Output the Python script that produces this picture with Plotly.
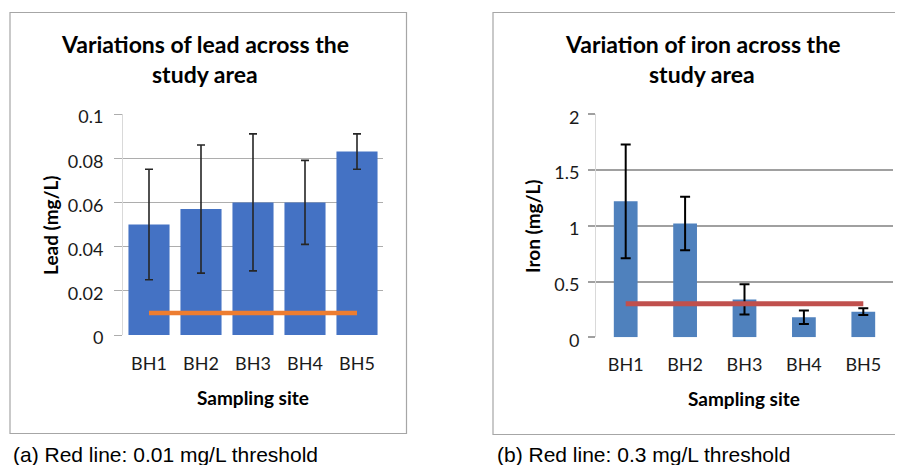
import plotly.graph_objects as go

sites = ["BH1", "BH2", "BH3", "BH4", "BH5"]
lead = [0.05, 0.057, 0.06, 0.06, 0.083]
lead_err = [0.025, 0.029, 0.031, 0.019, 0.008]
lead_threshold = 0.01
iron = [1.22, 1.02, 0.34, 0.18, 0.23]
iron_err = [0.51, 0.24, 0.136, 0.06, 0.03]
iron_threshold = 0.3

W, H = 903, 465
OFF = 8  # page body margin offset
def fx(px): return (px - OFF) / W
def fy(py): return 1 - (py - OFF) / H

TF = "Lato, 'Open Sans', sans-serif"
TXT = "#1a1a1a"
fig = go.Figure()

fig.add_trace(go.Bar(x=sites, y=lead, width=0.79, marker=dict(color="#4472C4", line=dict(width=0)),
                     error_y=dict(type="data", array=lead_err, color="#262626", thickness=1.6, width=4),
                     xaxis="x", yaxis="y", showlegend=False))
fig.add_trace(go.Scatter(x=sites, y=[lead_threshold] * len(sites), mode="lines",
                         line=dict(color="#ED7D31", width=4.5), xaxis="x", yaxis="y", showlegend=False))
fig.add_trace(go.Bar(x=sites, y=iron, width=0.4, marker=dict(color="#4F81BD", line=dict(width=0)),
                     error_y=dict(type="data", array=iron_err, color="#000000", thickness=2, width=5),
                     xaxis="x2", yaxis="y2", showlegend=False))
fig.add_trace(go.Scatter(x=sites, y=[iron_threshold] * len(sites), mode="lines",
                         line=dict(color="#C0504D", width=5), xaxis="x2", yaxis="y2", showlegend=False))

tickfont = dict(family=TF, size=18, color=TXT)

fig.update_layout(
    width=W, height=H, margin=dict(l=0, r=0, t=0, b=0, autoexpand=False),
    paper_bgcolor="white", plot_bgcolor="white", showlegend=False,
    xaxis=dict(domain=[fx(123), fx(383)], anchor="y", showgrid=False, showline=False,
               ticks="", tickfont=tickfont, automargin=False, ticklabelstandoff=16),
    yaxis=dict(domain=[fy(335), fy(114)], anchor="x", range=[0, 0.1], dtick=0.02,
               showgrid=True, gridcolor="#ADADAD", gridwidth=1, zeroline=False,
               showline=True, linecolor="#D9D9D9", linewidth=1, automargin=False,
               ticks="outside", ticklen=8, tickcolor="#ADADAD", tickfont=tickfont,
               ticklabelstandoff=7, ticklabelshift=3),
    xaxis2=dict(domain=[fx(596), fx(893)], anchor="y2", showgrid=False, showline=False,
                ticks="", tickfont=tickfont, automargin=False, ticklabelstandoff=15),
    yaxis2=dict(domain=[fy(337.3), fy(114.3)], anchor="x2", range=[0, 2], dtick=0.5,
                showgrid=True, gridcolor="#A0A0A0", gridwidth=1.5, zeroline=False,
                showline=True, linecolor="#D9D9D9", linewidth=1, automargin=False,
                ticks="outside", ticklen=7, tickcolor="#A0A0A0", tickwidth=1.5,
                tickfont=tickfont, ticklabelstandoff=5, ticklabelshift=3),
)

# Outer chart borders
fig.add_shape(type="rect", xref="paper", yref="paper", x0=fx(10), x1=fx(406.5), y0=fy(433.5), y1=fy(12.5),
              line=dict(color="#A6A6A6", width=1.2), fillcolor="rgba(0,0,0,0)")
fig.add_shape(type="rect", xref="paper", yref="paper", x0=fx(493), x1=fx(905), y0=fy(434.5), y1=fy(12.5),
              line=dict(color="#A6A6A6", width=1.2), fillcolor="rgba(0,0,0,0)")

def ann(text, x, y, size, bold=False, family=TF, angle=0, xanchor="center"):
    fig.add_annotation(text=text, x=fx(x), y=fy(y), xref="paper", yref="paper", showarrow=False,
                       xanchor=xanchor, yanchor="middle", textangle=angle,
                       font=dict(family=family, size=size, color="#000000", weight="bold" if bold else "normal"))

ann("Variations of lead across the", 205, 44, 23, True)
ann("study area", 205, 74, 23, True)
ann("Variation of iron across the", 702, 44, 23, True)
ann("study area", 702, 74, 23, True)
ann("Lead (mg/L)", 50, 225, 19, True, angle=-90)
ann("Iron (mg/L)", 533, 226, 19, True, angle=-90)
ann("Sampling site", 253, 397, 19, True)
ann("Sampling site", 744, 398, 19, True)
ann("(a) Red line: 0.01 mg/L threshold", 11, 454, 21, False, family="'Liberation Sans', Arial, sans-serif", xanchor="left")
ann("(b) Red line: 0.3 mg/L threshold", 495, 454, 21, False, family="'Liberation Sans', Arial, sans-serif", xanchor="left")

fig.write_html("out.html")
